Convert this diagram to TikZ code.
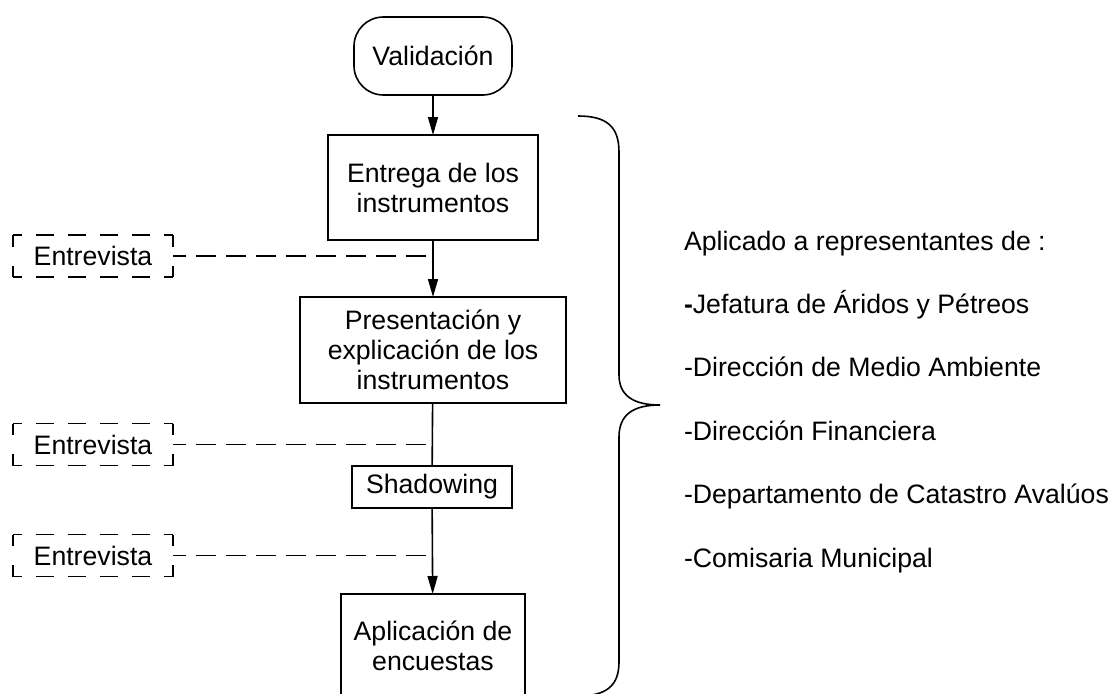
\documentclass[tikz,border=0pt]{standalone}
\usepackage{fontspec}
\setmainfont{Liberation Sans}
\usetikzlibrary{arrows.meta}
\newcommand\dashedframe[1]{%
  \draw[hdash] (#1.north west) -- (#1.north east);
  \draw[hdash] (#1.south west) -- (#1.south east);
  \draw[vdash] (#1.north west) -- (#1.south west);
  \draw[vdash] (#1.north east) -- (#1.south east);
}
\begin{document}
\begin{tikzpicture}[x=0.75pt,y=-0.75pt,
  every node/.style={font=\fontsize{20pt}{22.5pt}\selectfont, inner sep=0pt, outer sep=0pt, align=center},
  box/.style={draw, line width=1.2pt, minimum width=#1},
  stadium/.style={draw, line width=1.2pt, rounded corners=22pt, minimum width=118.5pt, minimum height=58.5pt},
  ebox/.style={minimum width=120pt, minimum height=31.5pt},
  hdash/.style={line width=1.2pt, line cap=butt, dash pattern=on 13.5pt off 10.5pt, dash phase=6.75pt},
  vdash/.style={line width=1.2pt, line cap=butt, dash pattern=on 17.25pt off 14.25pt, dash phase=8.625pt},
  link/.style={line width=1.2pt},
  arr/.style={link, -{Triangle[length=13.5pt, width=7.5pt]}},
  dsh/.style={link, dash pattern=on 15pt off 7.5pt, dash phase=17.25pt},
  item/.style={anchor=base west, align=left}
]
\useasboundingbox (0,0) rectangle (1110,693);

\node[stadium] (val) at (433,56) {Validación};
\node[box=157.5pt, minimum height=78.75pt] (b1) at (433,187.5) {Entrega de los\\instrumentos};
\node[box=199.5pt, minimum height=79.5pt] (b2) at (433,350) {Presentación y\\explicación de los\\instrumentos};
\node[box=120pt, minimum height=31.5pt] (sh) at (432,487) {Shadowing};
\node[box=138pt, minimum height=78pt] (b4) at (433,646) {Aplicación de\\encuestas};

\node[ebox] (e1) at (93,256) {Entrevista};
\node[ebox] (e2) at (93,444.5) {Entrevista};
\node[ebox] (e3) at (93,555.5) {Entrevista};
\dashedframe{e1}
\dashedframe{e2}
\dashedframe{e3}

\draw[arr] (val) -- (b1);
\draw[arr] (b1) -- (b2);
\draw[link] (b2) -- (sh);
\draw[arr] (sh) -- (b4);

\draw[dsh] (e1.east -| b1.south) -- (e1.east);
\draw[dsh] (e2.east -| b1.south) -- (e2.east);
\draw[dsh] (e3.east -| b1.south) -- (e3.east);

\draw[link] (578,116) .. controls (606,116) and (619,126) .. (619,152)
  -- (619,375) .. controls (619,396) and (634,405) .. (660,405)
  .. controls (634,405) and (619,414) .. (619,437)
  -- (619,662) .. controls (619,686) and (606,696) .. (578,696);

\node[item] (t0) at (684,250) {Aplicado a representantes de :};
\node[item] (t1) at (684,313.4) {{\bfseries -}Jefatura de Áridos y Pétreos};
\node[item] (t2) at (684,376.8) {-Dirección de Medio Ambiente};
\node[item] (t3) at (684,440.2) {-Dirección Financiera};
\node[item] (t4) at (684,503.6) {-Departamento de Catastro Avalúos};
\node[item] (t5) at (684,567) {-Comisaria Municipal};
\end{tikzpicture}
\end{document}
